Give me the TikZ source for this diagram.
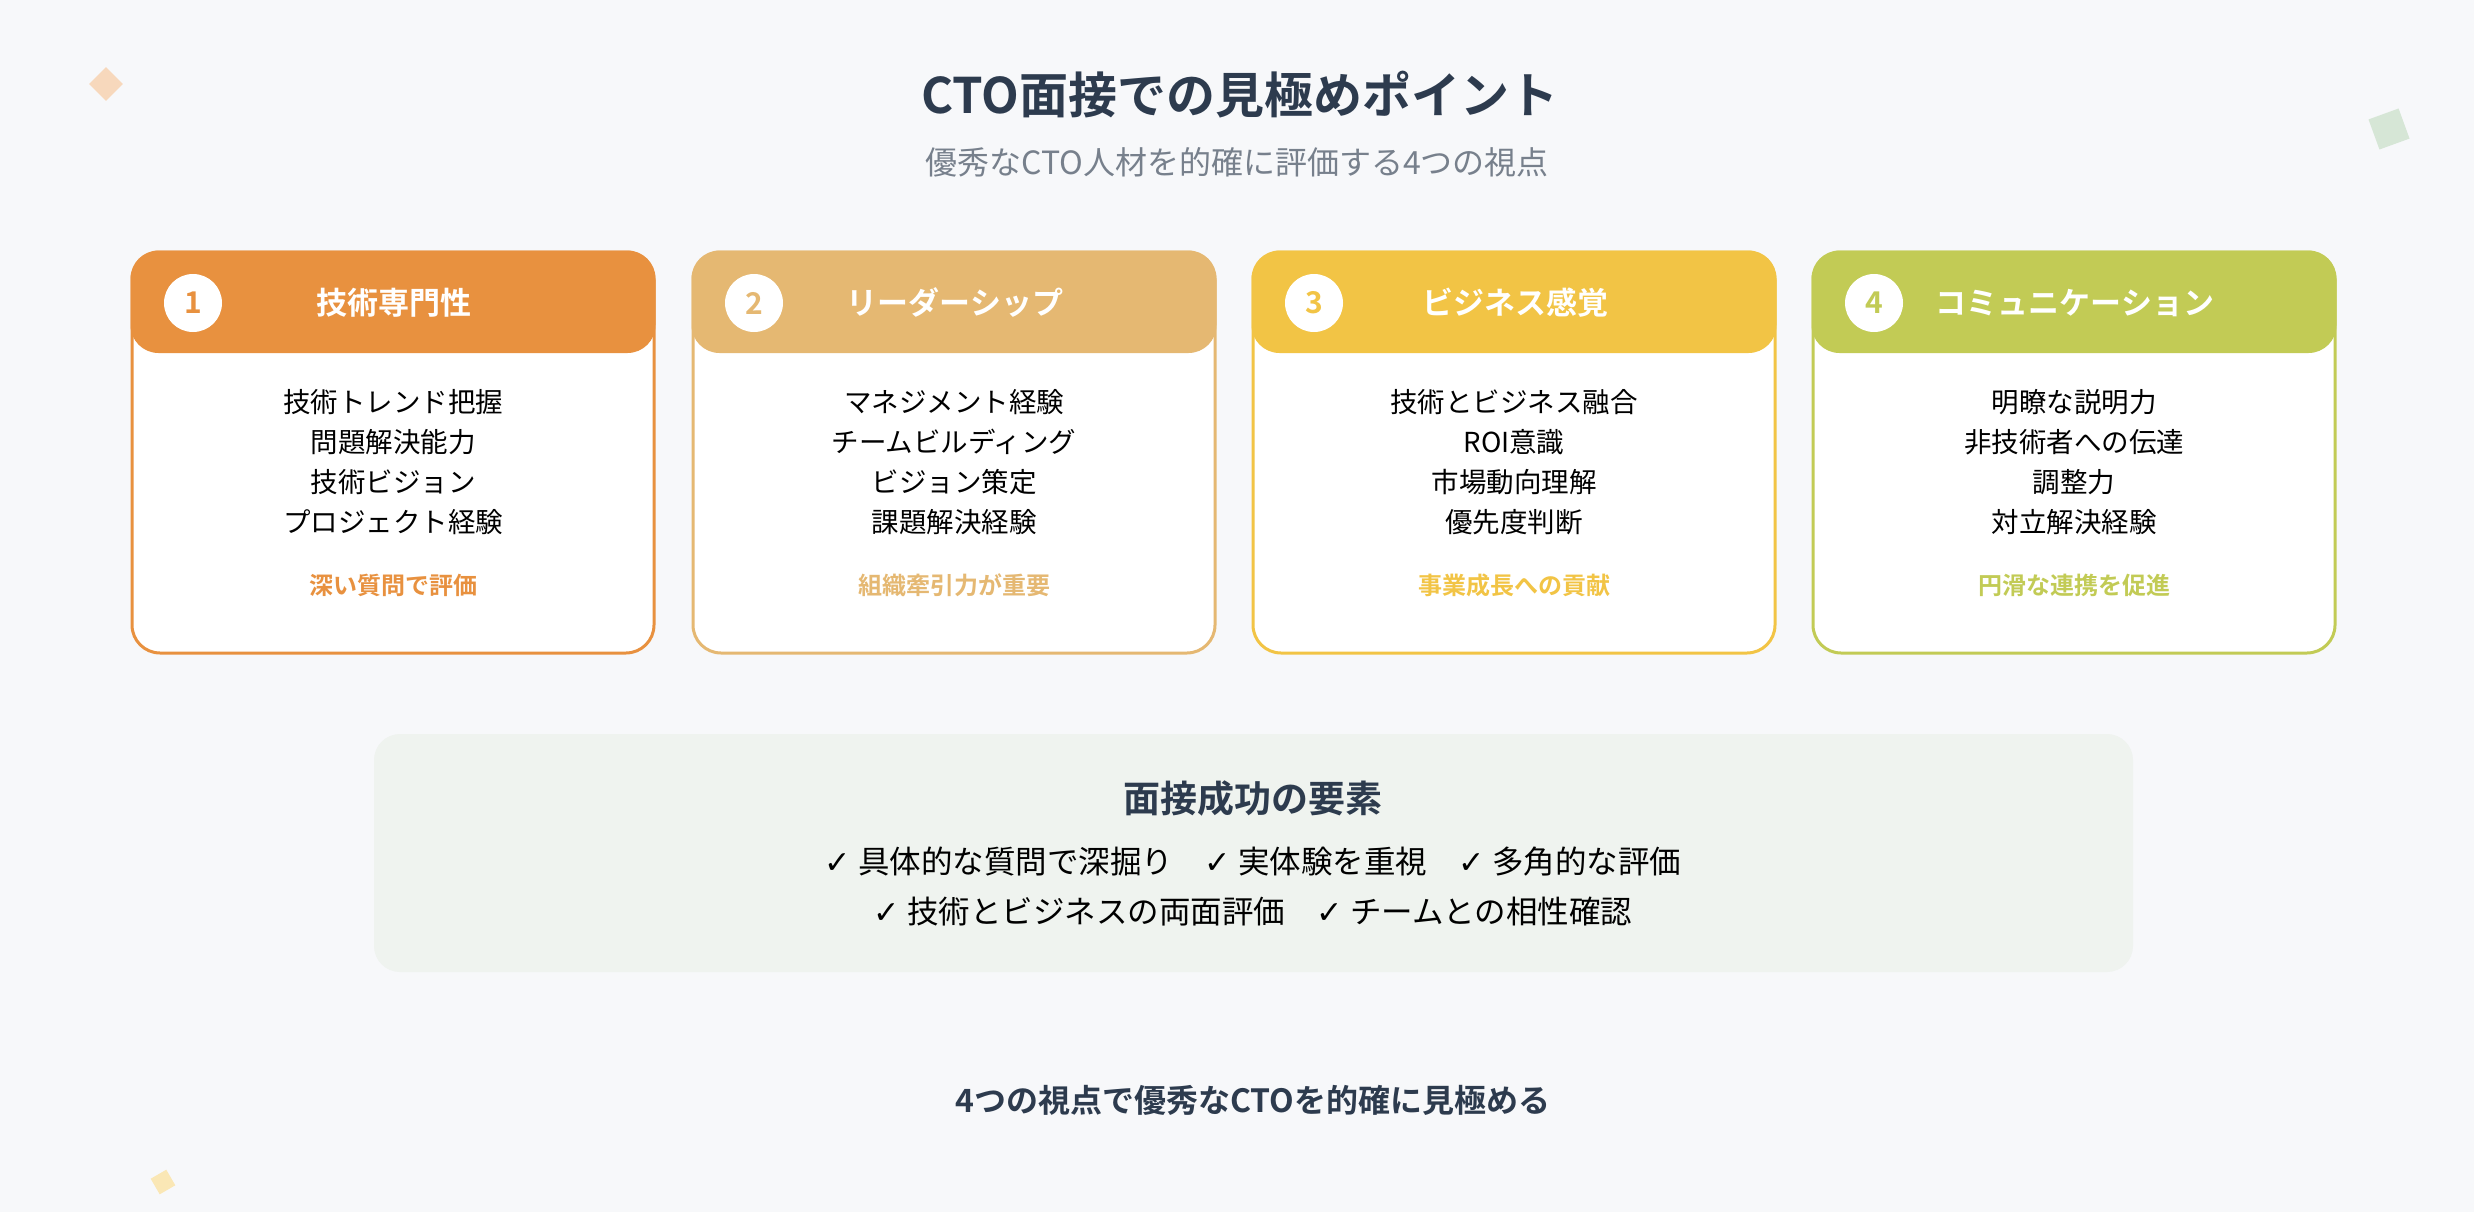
\documentclass[tikz,border=0pt]{standalone}
\usepackage{fontspec}
\setmainfont{Noto Sans CJK JP}
\newfontfamily\jpb{Noto Sans CJK JP Bold}
\newfontfamily\dv{DejaVu Sans}
\definecolor{bg}{HTML}{F7F8FA}
\definecolor{ink}{HTML}{2D3B4E}
\definecolor{cA}{HTML}{E8913F}
\definecolor{cB}{HTML}{E5B872}
\definecolor{cC}{HTML}{F2C445}
\definecolor{cD}{HTML}{C2CB55}
\definecolor{panel}{HTML}{EFF3EF}
\definecolor{decoG}{HTML}{D6E6D6}
\tikzset{
 card/.style={draw=#1,line width=3pt,fill=white,rounded corners=28pt},
 head/.style={fill=#1,rounded corners=28pt},
 numc/.style={circle,fill=white,minimum size=58pt,inner sep=0pt,text=#1,font=\jpb\fontsize{30}{30}\selectfont},
 htitle/.style={text=white,font=\jpb\fontsize{31}{31}\selectfont},
 item/.style={text=black,font=\fontsize{27.5}{40}\selectfont,align=center},
 foot/.style={text=#1,font=\jpb\fontsize{24}{24}\selectfont}
}
\begin{document}
\begin{tikzpicture}[x=1pt,y=-1pt]
\fill[bg] (0,0) rectangle (2474,1212);
\useasboundingbox (0,0) rectangle (2474,1212);
\fill[cA!35,rotate around={45:(106,84)}] (94,72) rectangle (118,96);
\fill[decoG,rotate around={20:(2389,129)}] (2373,113) rectangle (2405,145);
\fill[cC!40,rotate around={30:(163,1182)}] (154,1173) rectangle (172,1191);
\node[text=ink,font=\jpb\fontsize{49}{49}\selectfont] (title) at (1240,95) {CTO面接での見極めポイント};
\node[text=ink!65,font=\fontsize{32}{32}\selectfont] (sub) at (1237,162) {優秀なCTO人材を的確に評価する4つの視点};
\foreach \i/\x/\c/\h/\a/\b/\cc/\d/\f in {
 1/132/cA/技術専門性/技術トレンド把握/問題解決能力/技術ビジョン/プロジェクト経験/深い質問で評価,
 2/693/cB/リーダーシップ/マネジメント経験/チームビルディング/ビジョン策定/課題解決経験/組織牽引力が重要,
 3/1253/cC/ビジネス感覚/技術とビジネス融合/ROI意識/市場動向理解/優先度判断/事業成長への貢献,
 4/1813/cD/コミュニケーション/明瞭な説明力/非技術者への伝達/調整力/対立解決経験/円滑な連携を促進}{
 \draw[card=\c] (\x,252) rectangle ++(522,401);
 \fill[head=\c] (\x-1.5,250.5) rectangle ++(525,102.5);
 \node[numc=\c] (n\i) at (\x+61,303) {\i};
 \node[htitle] (h\i) at (\x+262,303) {\h};
 \node[item] (it\i) at (\x+261,462) {\a\\\b\\\cc\\\d};
 \node[foot=\c] (f\i) at (\x+261,585) {\f};
}
\fill[panel,rounded corners=26pt] (374,734) rectangle (2133,972);
\node[text=ink,font=\jpb\fontsize{37}{37}\selectfont] (pt) at (1253,798) {面接成功の要素};
\node[text=black,font=\fontsize{31.5}{31.5}\selectfont] (l1) at (1253,862) {{\dv ✓} 具体的な質問で深掘り\quad{\dv ✓} 実体験を重視\quad{\dv ✓} 多角的な評価};
\node[text=black,font=\fontsize{31.5}{31.5}\selectfont] (l2) at (1253,912) {{\dv ✓} 技術とビジネスの両面評価\quad{\dv ✓} チームとの相性確認};
\node[text=ink,font=\jpb\fontsize{32}{32}\selectfont] (bt) at (1253,1100) {4つの視点で優秀なCTOを的確に見極める};
\end{tikzpicture}
\end{document}
